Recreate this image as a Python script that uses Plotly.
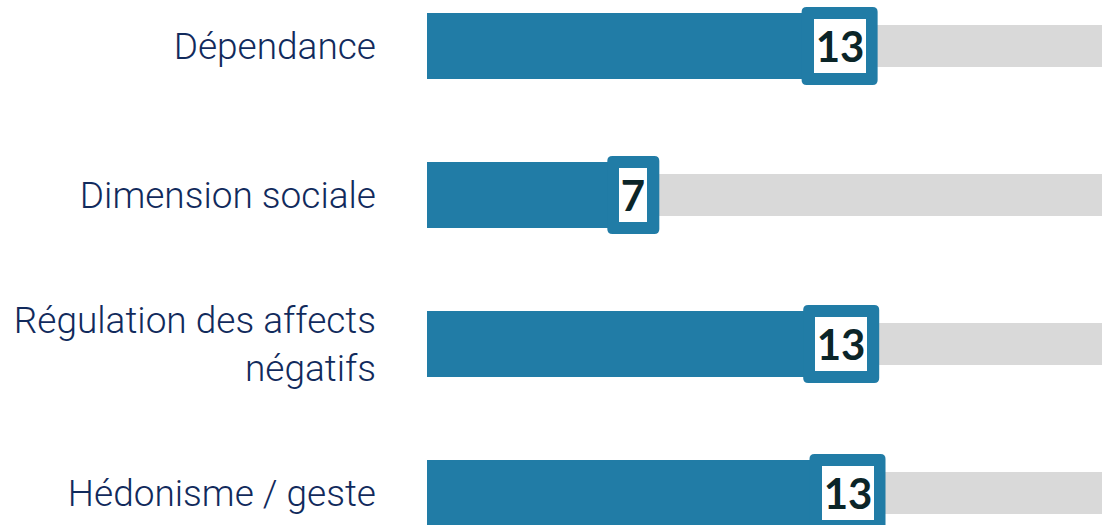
import plotly.graph_objects as go

categories = ["Dépendance", "Dimension sociale", "Régulation des affects<br>négatifs", "Hédonisme / geste"]
values = [13.1, 6.55, 13.15, 13.35]
value_labels = ["13", "7", "13", "13"]
track_max = [25, 25, 25, 25]

BLUE = "#217ca6"
GREY = "#d9d9d9"
NAVY = "#112a5c"
DARK = "#0b2528"


def rounded_rect(w, h, r):
    a, b = w / 2, h / 2
    return (f"M {-a + r},{-b} L {a - r},{-b} Q {a},{-b} {a},{-b + r} "
            f"L {a},{b - r} Q {a},{b} {a - r},{b} L {-a + r},{b} "
            f"Q {-a},{b} {-a},{b - r} L {-a},{-b + r} Q {-a},{-b} {-a + r},{-b} Z")


fig = go.Figure()
fig.add_bar(y=categories, x=track_max, orientation="h",
            marker=dict(color=GREY, line_width=0), width=0.282, hoverinfo="skip")
fig.add_bar(y=categories, x=values, orientation="h",
            marker=dict(color=BLUE, line_width=0), width=0.443)

for i, (c, v, t) in enumerate(zip(categories, values, value_labels)):
    inner_w = 4 + 24 * len(t)
    fig.add_shape(type="path", xref="x", yref="y", xsizemode="pixel", ysizemode="pixel",
                  xanchor=v, yanchor=i, path=rounded_rect(inner_w + 24, 78, 5),
                  fillcolor=BLUE, line_width=0, layer="above")
    fig.add_annotation(x=v, y=c, xref="x", yref="y", text=f"<b>{t}</b>", showarrow=False,
                       font=dict(family="Lato", size=42, color=DARK),
                       bgcolor="white", borderwidth=0, borderpad=0,
                       width=inner_w, height=54,
                       xanchor="center", yanchor="middle", valign="middle")

fig.update_layout(
    width=1102, height=525,
    margin=dict(l=427, r=0, t=0, b=0),
    barmode="overlay", showlegend=False,
    plot_bgcolor="white", paper_bgcolor="white",
    xaxis=dict(range=[0, 21.43], visible=False, fixedrange=True),
    yaxis=dict(type="category", categoryorder="array", categoryarray=categories,
               range=[3.215, -0.309], ticks="", ticklabelstandoff=50, automargin=False,
               fixedrange=True,
               tickfont=dict(family="Roboto", size=37, color=NAVY, weight=300),
               showgrid=False, zeroline=False, showline=False),
)
fig.write_html("out.html", config={"displayModeBar": False},
               post_script="document.body.style.margin='0';document.body.style.padding='0';"
                           "document.body.style.overflow='hidden';")
